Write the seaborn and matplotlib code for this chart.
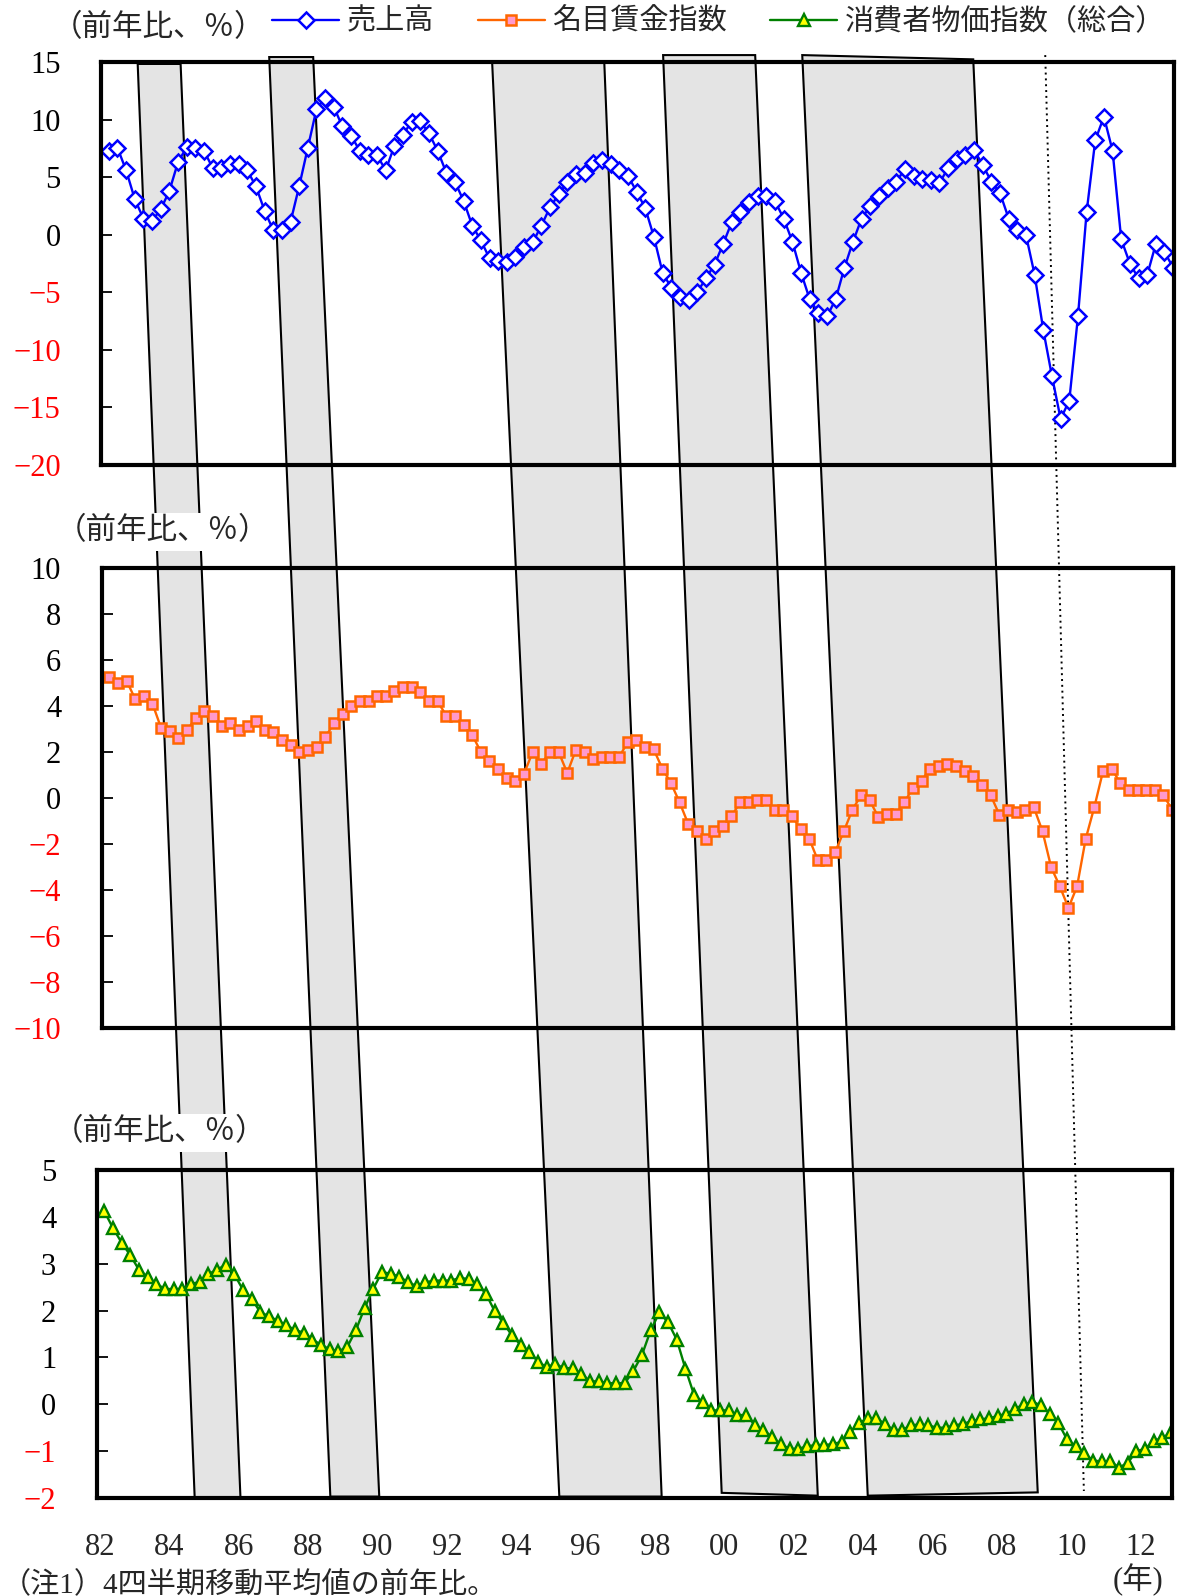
import numpy as np
import pandas as pd
import matplotlib
matplotlib.use('Agg')
import matplotlib.pyplot as plt
import seaborn as sns
from matplotlib.patches import Polygon
from matplotlib.lines import Line2D

# ---- data (quarterly, 1982Q1 - 2012Q4, y/y %) ----
quarters = pd.period_range('1982Q1', periods=124, freq='Q')

sales = [7.3, 7.55, 5.6, 3.1, 1.4, 1.2, 2.2, 3.8, 6.3, 7.6,
         7.55, 7.3, 5.8, 5.8, 6.1, 6.1, 5.6, 4.2, 2.1, 0.4,
         0.4, 1.1, 4.2, 7.55, 10.9, 11.9, 11.1, 9.4, 8.6, 7.3,
         6.9, 6.9, 5.6, 7.7, 8.7, 9.8, 9.85, 8.8, 7.3, 5.4,
         4.6, 2.95, 0.8, -0.5, -2.05, -2.25, -2.4, -1.9, -1.1, -0.65,
         0.8, 2.4, 3.5, 4.6, 5.25, 5.4, 6.2, 6.5, 6.1, 5.6,
         5.1, 3.75, 2.3, -0.2, -3.3, -4.6, -5.4, -5.7, -5.0, -3.8,
         -2.6, -0.8, 1.1, 1.95, 2.8, 3.35, 3.4, 2.9, 1.4, -0.6,
         -3.3, -5.6, -6.8, -7.1, -5.6, -2.9, -0.6, 1.4, 2.5, 3.35,
         4.1, 4.6, 5.7, 5.1, 4.8, 4.75, 4.5, 5.8, 6.55, 6.9,
         7.35, 6.05, 4.6, 3.6, 1.4, 0.45, -0.05, -3.5, -8.3, -12.3,
         -16.0, -14.4, -7.1, 1.95, 8.2, 10.25, 7.3, -0.4, -2.5, -3.8,
         -3.5, -0.8, -1.5, -2.85]

wages = [5.25, 5.0, 5.1, 4.3, 4.42, 4.1, 3.04, 2.93, 2.61, 2.94,
         3.48, 3.77, 3.55, 3.14, 3.26, 2.94, 3.14, 3.36, 2.94, 2.85,
         2.53, 2.32, 2.0, 2.1, 2.2, 2.64, 3.26, 3.67, 3.99, 4.2,
         4.2, 4.42, 4.42, 4.64, 4.83, 4.83, 4.61, 4.2, 4.2, 3.58,
         3.58, 3.16, 2.75, 2.0, 1.6, 1.27, 0.87, 0.75, 1.06, 2.0,
         1.48, 2.0, 2.0, 1.09, 2.1, 2.0, 1.71, 1.8, 1.78, 1.78,
         2.43, 2.54, 2.22, 2.12, 1.28, 0.65, -0.19, -1.13, -1.45, -1.77,
         -1.45, -1.23, -0.8, -0.19, -0.19, -0.07, -0.07, -0.51, -0.51, -0.8,
         -1.33, -1.77, -2.71, -2.71, -2.36, -1.45, -0.51, 0.12, -0.1, -0.83,
         -0.71, -0.71, -0.19, 0.43, 0.75, 1.28, 1.38, 1.48, 1.38, 1.16,
         0.97, 0.55, 0.12, -0.72, -0.51, -0.61, -0.51, -0.41, -1.45, -3.01,
         -3.84, -4.78, -3.84, -1.77, -0.39, 1.16, 1.28, 0.65, 0.33, 0.33,
         0.33, 0.33, 0.12, -0.51]

cpi = [4.12, 3.76, 3.45, 3.18, 2.87, 2.72, 2.57, 2.46, 2.46, 2.46,
       2.57, 2.61, 2.78, 2.87, 2.98, 2.77, 2.44, 2.25, 1.96, 1.88,
       1.78, 1.69, 1.58, 1.53, 1.38, 1.27, 1.17, 1.13, 1.22, 1.58,
       2.05, 2.46, 2.82, 2.79, 2.72, 2.61, 2.52, 2.6, 2.64, 2.64,
       2.64, 2.7, 2.67, 2.57, 2.36, 1.99, 1.74, 1.47, 1.27, 1.12,
       0.91, 0.79, 0.86, 0.77, 0.77, 0.65, 0.49, 0.49, 0.45, 0.45,
       0.45, 0.71, 1.06, 1.58, 1.96, 1.75, 1.38, 0.76, 0.2, 0.04,
       -0.13, -0.13, -0.13, -0.23, -0.23, -0.44, -0.55, -0.7, -0.85, -0.95,
       -0.95, -0.9, -0.87, -0.87, -0.85, -0.8, -0.6, -0.4, -0.3, -0.3,
       -0.42, -0.55, -0.55, -0.45, -0.43, -0.45, -0.5, -0.5, -0.45, -0.42,
       -0.36, -0.32, -0.3, -0.25, -0.2, -0.1, 0.0, 0.05, -0.02, -0.2,
       -0.4, -0.75, -0.9, -1.05, -1.2, -1.22, -1.22, -1.35, -1.25, -1.0,
       -0.95, -0.78, -0.72, -0.6]

series_names = ['売上高', '名目賃金指数', '消費者物価指数（総合）']
year_ticks = list(range(1982, 2013, 2))

# recession bands (slanted in the original): years at top of panel 1 / bottom of panel 3
band_top_start = [1982.96, 1986.76, 1993.20, 1998.14, 2002.16]
band_top_end = [1984.20, 1988.03, 1996.44, 2000.80, 2007.10]
band_bot_start = [1984.73, 1988.64, 1995.24, 1999.92, 2004.13]
band_bot_end = [1986.05, 1990.05, 1998.19, 2002.69, 2009.03]
band_top_lvl_start = [14.83, 15.43, 15.0, 15.6, 15.6]
band_top_lvl_end = [14.83, 15.43, 15.0, 15.6, 15.23]
band_bot_lvl_start = [-2.0, -1.97, -1.97, -1.89, -1.95]
band_bot_lvl_end = [-2.0, -1.97, -1.97, -1.95, -1.88]
marker_line = (2009.18, 15.6, 2010.36, -1.85)

qx = quarters.year + (quarters.quarter - 0.5) / 4

# ---- style ----
sns.set_style('white')
plt.rcParams['font.family'] = ['Liberation Serif', 'Noto Sans CJK JP', 'DejaVu Sans']

W, H = 1177, 1596
fig = plt.figure(figsize=(W / 100, H / 100), dpi=100)


def px_axes(left, top, right, bottom, z=1):
    return fig.add_axes([left / W, 1 - bottom / H, (right - left) / W, (bottom - top) / H], zorder=z)


bg = fig.add_axes([0, 0, 1, 1], zorder=0)
bg.set_xlim(0, 1)
bg.set_ylim(0, 1)
bg.axis('off')

ax1 = px_axes(101, 62, 1174, 465)
ax2 = px_axes(101.5, 568, 1173, 1028)
ax3 = px_axes(96.5, 1170, 1172, 1498)

blue_style = dict(color='#0000ff', lw=1.7, marker='D', markersize=8, markerfacecolor='white',
                  markeredgecolor='#0000ff', markeredgewidth=1.8)
orange_style = dict(color='#ff6600', lw=1.7, marker='s', markersize=6.5, markerfacecolor='#ff99cc',
                    markeredgecolor='#ff6600', markeredgewidth=1.8)
green_style = dict(color='#008000', lw=1.7, marker='^', markersize=8.5, markerfacecolor='#ffff00',
                   markeredgecolor='#008000', markeredgewidth=1.7)

sns.lineplot(x=qx, y=sales, ax=ax1, **blue_style)
sns.lineplot(x=qx, y=wages, ax=ax2, **orange_style)
sns.lineplot(x=qx, y=cpi, ax=ax3, **green_style)

for ax, lo, hi, step in [(ax1, -20, 15, 5), (ax2, -10, 10, 2), (ax3, -2, 5, 1)]:
    ax.set_facecolor('none')
    ax.set_xlim(1981.9, 2012.9)
    ax.set_ylim(lo, hi)
    ticks = np.arange(lo, hi + step, step)
    ax.set_yticks(ticks)
    ax.set_yticklabels([f'{t:d}'.replace('-', '\u2212') for t in ticks])
    ax.tick_params(axis='y', direction='in', length=8, width=1.3, pad=29,
                   labelsize=22, left=True, color='black')
    for lab, val in zip(ax.get_yticklabels(), ticks):
        lab.set_color('red' if val < 0 else 'black')
    for sp in ax.spines.values():
        sp.set_linewidth(3)
        sp.set_color('black')
    ax.set_xlabel('')
    ax.set_ylabel('')

ax1.set_xticks([])
ax2.set_xticks([])
ax3.set_xticks(year_ticks)
ax3.set_xticklabels([f'{y % 100:02d}' for y in year_ticks])
ax3.tick_params(axis='x', length=0, pad=25, labelsize=22)

# ---- slanted bands connecting the panels ----
inv = fig.transFigure.inverted()


def to_fig(ax, x, y):
    return inv.transform(ax.transData.transform((x, y)))


for i in range(len(band_top_start)):
    pts = [to_fig(ax1, band_top_start[i], band_top_lvl_start[i]),
           to_fig(ax1, band_top_end[i], band_top_lvl_end[i]),
           to_fig(ax3, band_bot_end[i], band_bot_lvl_end[i]),
           to_fig(ax3, band_bot_start[i], band_bot_lvl_start[i])]
    bg.add_patch(Polygon(pts, closed=True, facecolor='#e4e4e4', edgecolor='black', lw=1.5))

p0 = to_fig(ax1, marker_line[0], marker_line[1])
p1 = to_fig(ax3, marker_line[2], marker_line[3])
bg.plot([p0[0], p1[0]], [p0[1], p1[1]], color='black', lw=1.4, linestyle=(0, (1, 2)))

# ---- texts ----
box = dict(facecolor='white', edgecolor='none', pad=3)
for xx, yy in [(52, 29), (56, 532), (53, 1133)]:
    fig.text(xx / W, 1 - yy / H, '（前年比、％）', ha='left', va='center', fontsize=22, bbox=box)

fig.text(1138 / W, 1 - 1580 / H, '(年)', ha='center', va='center', fontsize=22)
fig.text(2 / W, 1 - 1571 / H, '（注1）4四半期移動平均値の前年比。', ha='left', va='top', fontsize=21)

handles = [Line2D([], [], **blue_style), Line2D([], [], **orange_style), Line2D([], [], **green_style)]
fig.legend(handles, series_names, loc='center left', bbox_to_anchor=(272 / W, 1 - 22 / H),
           ncol=3, frameon=False, fontsize=21, handlelength=2.3, handletextpad=0.25,
           columnspacing=1.5, borderpad=0, borderaxespad=0)

fig.savefig('out.png', dpi=100)
